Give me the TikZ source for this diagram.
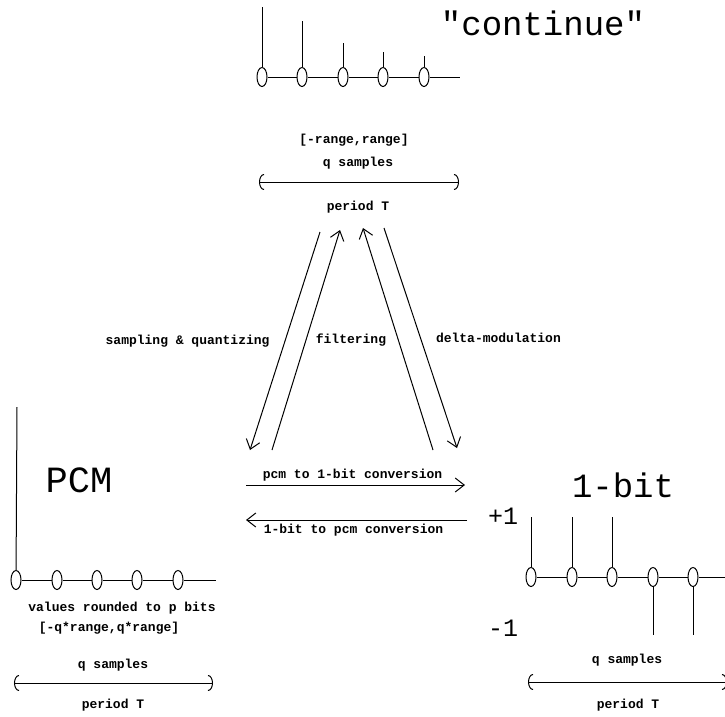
\documentclass[tikz,border=0pt]{standalone}
\usepackage{fontspec}
\setmonofont{Liberation Mono}
\usetikzlibrary{arrows.meta, shapes.geometric, positioning}

\tikzset{
  smp/.style  = {draw, ellipse, fill=white, minimum width=10pt,
                 minimum height=19pt, inner sep=0pt},
  lbl/.style  = {font=\ttfamily\bfseries\fontsize{13}{15}\selectfont, inner sep=1pt},
  big/.style  = {font=\ttfamily\fontsize{34}{38}\selectfont, inner sep=0pt},
  lvl/.style  = {font=\ttfamily\fontsize{25}{28}\selectfont, inner sep=0pt},
  span/.style = {{Arc Barb[length=5pt, width=16pt]}-{Arc Barb[length=5pt, width=16pt]}},
  conv/.style = {-{Straight Barb[length=9pt, width=14pt]}},
}

\begin{document}
\begin{tikzpicture}[x=1pt, y=-1pt, line width=1pt]
\useasboundingbox (0,0) rectangle (725,716);

% "continue" signal
\node[big] (cont) at (543,23) {"continue"};
\foreach \x/\h [count=\i] in {262/7, 302/21, 343/43, 383/52, 424/56} {
  \node[smp] (t\i) at (\x,77) {};
  \coordinate (th\i) at (\x,\h);
  \draw (t\i) -- (th\i);
}
\coordinate (tend) at (460,77);
\draw (t1) -- (t2) -- (t3) -- (t4) -- (t5) -- (tend);
\node[lbl] (trng) at (354,140) {[-range,range]};
\node[lbl] (tq) at (358,163) {q samples};
\coordinate (tl) at (259,182);
\coordinate (tr) at (459,182);
\draw[span] (tl) -- (tr);
\node[lbl] (tper) at (358,207) {period T};

% conversions to / from "continue"
\coordinate (dg1a) at (320,232); \coordinate (dg1b) at (250,450);
\coordinate (dg2a) at (340,230); \coordinate (dg2b) at (272,450);
\coordinate (dg3a) at (363,228); \coordinate (dg3b) at (433,450);
\coordinate (dg4a) at (384,228); \coordinate (dg4b) at (457,448);
\draw[conv] (dg1a) -- node[lbl, left=14pt] (lsq) {sampling \& quantizing} (dg1b);
\draw[conv] (dg2b) -- (dg2a);
\draw[conv] (dg3b) -- (dg3a);
\draw[conv] (dg4a) -- node[lbl, right=14pt] (ldm) {delta-modulation} (dg4b);
\node[lbl] (lfl) at (351,340) {filtering};

% pcm <-> 1-bit
\coordinate (hz1) at (246,485); \coordinate (hz2) at (465,485);
\coordinate (hz3) at (467,520); \coordinate (hz4) at (246,520);
\draw[conv] (hz1) -- node[lbl, above=2pt, xshift=-3pt] (lpb) {pcm to 1-bit conversion} (hz2);
\draw[conv] (hz3) -- node[lbl, below=3pt, xshift=-3pt] (lbp) {1-bit to pcm conversion} (hz4);

% PCM signal
\node[big, font=\ttfamily\fontsize{37}{40}\selectfont] (pcm) at (79,480) {PCM};
\foreach \x [count=\i] in {16, 57, 97, 137, 178}
  \node[smp] (m\i) at (\x,580) {};
\coordinate (maxis) at (17,407);
\coordinate (mend) at (216,580);
\draw (m1) -- (maxis);
\draw (m1) -- (m2) -- (m3) -- (m4) -- (m5) -- (mend);
\node[lbl] (mval) at (122,608) {values rounded to p bits};
\node[lbl] (mrng) at (109,628) {[-q*range,q*range]};
\node[lbl] (mq) at (113,665) {q samples};
\coordinate (ml) at (14,683);
\coordinate (mr) at (213,683);
\draw[span] (ml) -- (mr);
\node[lbl] (mper) at (113,705) {period T};

% 1-bit signal
\node[big] (onebit) at (623,485) {1-bit};
\node[lvl] (plus) at (503,516) {+1};
\node[lvl] (minus) at (503,628) {-1};
\foreach \x/\h [count=\i] in {531/517, 572/517, 612/517, 653/635, 693/635} {
  \node[smp] (o\i) at (\x,577) {};
  \coordinate (oh\i) at (\x,\h);
  \draw (o\i) -- (oh\i);
}
\coordinate (oend) at (730,577);
\draw (o1) -- (o2) -- (o3) -- (o4) -- (o5) -- (oend);
\node[lbl] (oq) at (627,660) {q samples};
\coordinate (ol) at (528,682);
\coordinate (or) at (727,682);
\draw[span] (ol) -- (or);
\node[lbl] (oper) at (628,705) {period T};
\end{tikzpicture}
\end{document}
